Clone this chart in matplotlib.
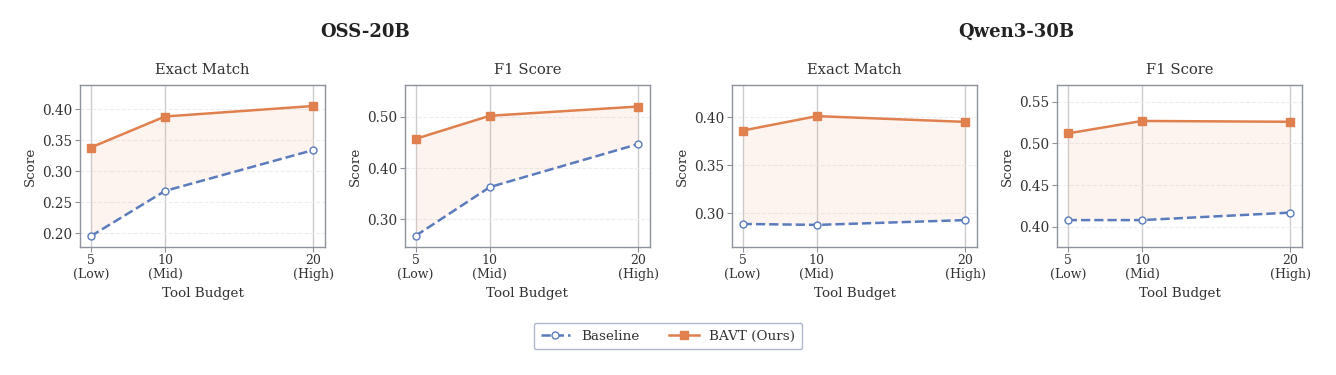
import numpy as np
import matplotlib
matplotlib.use("Agg")
import matplotlib.pyplot as plt

plt.rcParams['font.family'] = ['DejaVu Serif']

budgets = [5, 10, 20]
budget_labels = ["5\n(Low)", "10\n(Mid)", "20\n(High)"]

oss_em_base = [0.195, 0.268, 0.334]
oss_em_bavt = [0.338, 0.388, 0.405]
oss_f1_base = [0.268, 0.363, 0.447]
oss_f1_bavt = [0.457, 0.502, 0.520]
qwen_em_base = [0.289, 0.288, 0.293]
qwen_em_bavt = [0.386, 0.401, 0.395]
qwen_f1_base = [0.408, 0.408, 0.417]
qwen_f1_bavt = [0.512, 0.527, 0.526]

panels = [
    ("Exact Match", oss_em_base, oss_em_bavt, (0.178, 0.4386), np.arange(0.20, 0.401, 0.05)),
    ("F1 Score", oss_f1_base, oss_f1_bavt, (0.2467, 0.5617), [0.30, 0.40, 0.50]),
    ("Exact Match", qwen_em_base, qwen_em_bavt, (0.2653, 0.4332), [0.30, 0.35, 0.40]),
    ("F1 Score", qwen_f1_base, qwen_f1_bavt, (0.376, 0.570), np.arange(0.40, 0.551, 0.05)),
]

blue = "#5b7bbd"
orange = "#e0804f"
spine = "#8d929c"

fig = plt.figure(figsize=(13.36, 3.75), dpi=100)
lefts = [0.0599, 0.3031, 0.5479, 0.7912]

for left, (title, base, bavt, ylim, yt) in zip(lefts, panels):
    ax = fig.add_axes([left, 0.342, 0.1834, 0.431])
    ax.fill_between(budgets, base, bavt, color="#f3a98a", alpha=0.12, linewidth=0)
    l1, = ax.plot(budgets, base, '--', color=blue, lw=1.8, marker='o', ms=5,
                  markerfacecolor='white', markeredgecolor=blue, markeredgewidth=1.0,
                  label="Baseline", zorder=3)
    l2, = ax.plot(budgets, bavt, '-', color=orange, lw=1.8, marker='s', ms=5.5,
                  label="BAVT (Ours)", zorder=3)
    ax.set_xlim(4.28, 20.78)
    ax.set_ylim(*ylim)
    ax.set_xticks(budgets)
    ax.set_xticklabels(budget_labels, fontsize=9, color="#333333", linespacing=1.1)
    ax.set_yticks(yt)
    ax.set_yticklabels([f"{v:.2f}" for v in yt], fontsize=9.8, color="#333333")
    ax.xaxis.grid(True, color="#cccccc", lw=1.0)
    ax.yaxis.grid(True, color="#ededed", lw=0.8, ls='--')
    ax.set_axisbelow(True)
    for s in ax.spines.values():
        s.set_color(spine)
        s.set_linewidth(1.0)
    ax.tick_params(axis='both', length=3.5, color=spine, pad=2)
    ax.set_title(title, fontsize=10.6, color="#333333", pad=8)
    ax.set_xlabel("Tool Budget", fontsize=9.7, color="#333333", labelpad=4)
    ax.set_ylabel("Score", fontsize=9.7, color="#333333", labelpad=4)

fig.text(0.273, 0.915, "OSS-20B", ha='center', va='center', fontsize=13, fontweight='bold', color="#222222")
fig.text(0.761, 0.915, "Qwen3-30B", ha='center', va='center', fontsize=13, fontweight='bold', color="#222222")

leg = fig.legend([l1, l2], ["Baseline", "BAVT (Ours)"], loc='center', bbox_to_anchor=(0.5, 0.104),
                 ncol=2, fontsize=9.7, frameon=True, fancybox=True, handlelength=2.2,
                 columnspacing=2.2, borderpad=0.5)
leg.get_frame().set_edgecolor("#9aa6c0")
leg.get_frame().set_linewidth(1.0)
for t in leg.get_texts():
    t.set_color("#333333")

fig.savefig("out.png", dpi=100)
